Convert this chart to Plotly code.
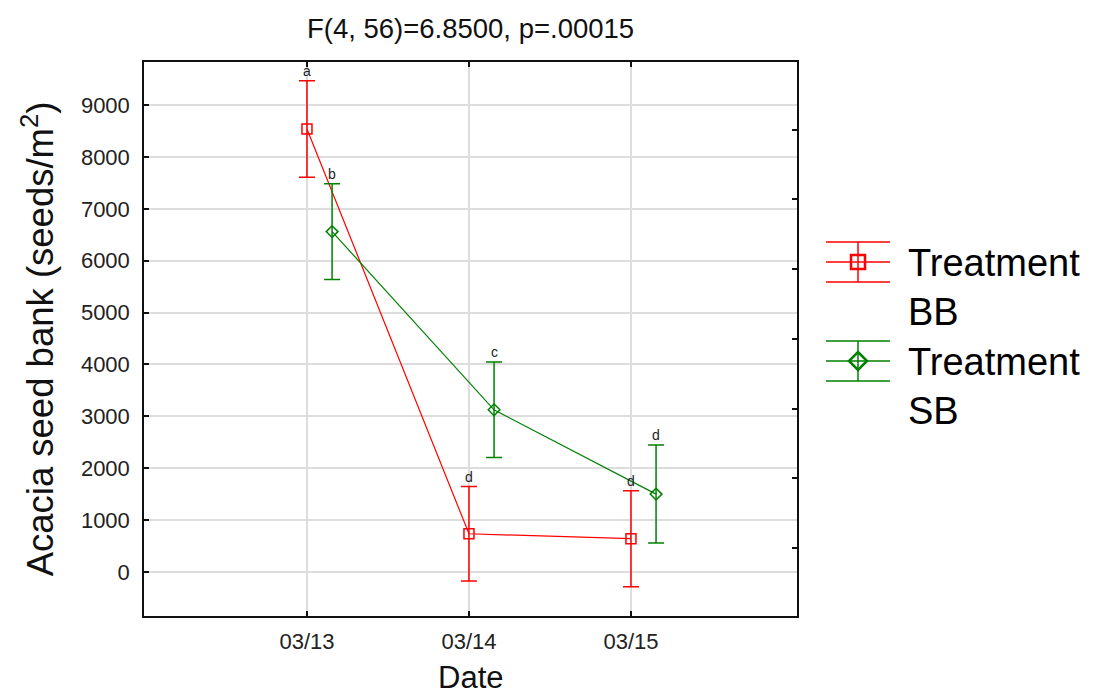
import plotly.graph_objects as go

# Seed bank means and error half-widths per sampling date
dates = ["03/13", "03/14", "03/15"]
bb_mean = [8540, 735, 640]
bb_err = [930, 910, 925]
sb_mean = [6560, 3125, 1500]
sb_err = [925, 920, 945]
bb_letters = ["a", "d", "d"]
sb_letters = ["b", "c", "d"]
y_ticks = [0, 1000, 2000, 3000, 4000, 5000, 6000, 7000, 8000, 9000]
right_ticks = [0, 1, 2, 3, 4, 5, 6]

RED = "#ff0000"
GREEN = "#008000"
FONT = "Liberation Sans, Arial, sans-serif"

W, H = 1093, 697
M = dict(l=144, r=296, t=62, b=81)

x_bb = list(range(len(dates)))
x_sb = [i + 0.155 for i in x_bb]

fig = go.Figure()

fig.add_trace(go.Scatter(
    x=x_bb, y=bb_mean, mode="lines+markers", name="Treatment BB",
    line=dict(color=RED, width=1.2),
    marker=dict(symbol="square-open", size=10, color=RED, line=dict(width=1.5)),
    error_y=dict(type="data", array=bb_err, visible=True, color=RED,
                 thickness=1.5, width=8),
    showlegend=False,
))
fig.add_trace(go.Scatter(
    x=x_sb, y=sb_mean, mode="lines+markers", name="Treatment SB",
    line=dict(color=GREEN, width=1.2),
    marker=dict(symbol="diamond-open", size=9, color=GREEN, line=dict(width=1.5)),
    error_y=dict(type="data", array=sb_err, visible=True, color=GREEN,
                 thickness=1.5, width=8),
    showlegend=False,
))
# empty trace so the unlabeled right-hand axis is drawn
fig.add_trace(go.Scatter(x=[None], y=[None], yaxis="y2", showlegend=False,
                         hoverinfo="skip"))

# significance letters above each upper error cap
annotations = []
for xs, means, errs, letters in ((x_bb, bb_mean, bb_err, bb_letters),
                                 (x_sb, sb_mean, sb_err, sb_letters)):
    for x, m, e, t in zip(xs, means, errs, letters):
        annotations.append(dict(
            x=x, y=m + e, xref="x", yref="y", text=t, showarrow=False,
            yanchor="middle", yshift=10, font=dict(family=FONT, size=14, color="#222"),
        ))


def px(xp, yp):
    """pixel position -> paper coordinates"""
    pw = W - M["l"] - M["r"]
    ph = H - M["t"] - M["b"]
    return (xp - M["l"]) / pw, (H - M["b"] - yp) / ph


# x-axis title placed below the tick labels
dx, dy = px(470.5, 696)
annotations.append(dict(x=dx, y=dy, xref="paper", yref="paper", text="Date",
                        showarrow=False, xanchor="center", yanchor="bottom",
                        borderpad=0, font=dict(family=FONT, size=31, color="#111")))

# legend drawn with error-bar glyphs
shapes = []
legend_items = [(RED, "square", 262, "Treatment<br>BB", 287),
                (GREEN, "diamond", 361, "Treatment<br>SB", 386)]
for color, sym, yc, label, ytxt in legend_items:
    for off in (-20, 0, 20):
        x0, y0 = px(826, yc + off)
        x1, _ = px(890, yc + off)
        shapes.append(dict(type="line", xref="paper", yref="paper", x0=x0, x1=x1,
                           y0=y0, y1=y0, line=dict(color=color, width=1.5)))
    xa, ya = px(858, yc - 20)
    _, yb = px(858, yc + 20)
    shapes.append(dict(type="line", xref="paper", yref="paper", x0=xa, x1=xa,
                       y0=ya, y1=yb, line=dict(color=color, width=1.5)))
    if sym == "square":
        a0, b0 = px(851, yc + 7)
        a1, b1 = px(865, yc - 7)
        shapes.append(dict(type="rect", xref="paper", yref="paper", x0=a0, x1=a1,
                           y0=b0, y1=b1, line=dict(color=color, width=2.5)))
    else:
        pts = [px(858, yc - 9), px(867, yc), px(858, yc + 9), px(849, yc)]
        path = "M " + " L ".join(f"{a},{b}" for a, b in pts) + " Z"
        shapes.append(dict(type="path", xref="paper", yref="paper", path=path,
                           line=dict(color=color, width=2.5)))
    tx, ty = px(906, ytxt)
    annotations.append(dict(x=tx, y=ty, xref="paper", yref="paper", text=label,
                            showarrow=False, xanchor="left", yanchor="middle",
                            align="left", font=dict(family=FONT, size=38, color="black")))

fig.update_layout(
    width=W, height=H, margin=dict(M, autoexpand=False),
    paper_bgcolor="white", plot_bgcolor="white",
    title=dict(text="F(4, 56)=6.8500, p=.00015", x=0.4305, xanchor="center",
               y=1 - 28 / H, yanchor="middle",
               font=dict(family=FONT, size=27.5, color="#111")),
    font=dict(family=FONT, color="#111"),
    xaxis=dict(
        range=[-1.006, 3.025], tickvals=x_bb, ticktext=dates, automargin=False,
        showgrid=True, gridcolor="#dddddd", gridwidth=1.5, zeroline=False,
        showline=True, linecolor="#111", linewidth=1.5, mirror="ticks",
        ticks="inside", ticklen=5, tickwidth=1.5, tickcolor="#111",
        tickfont=dict(family=FONT, size=22, color="#222"), ticklabelstandoff=5,
    ),
    yaxis=dict(
        range=[-850, 9830], tickvals=y_ticks, automargin=False,
        showgrid=True, gridcolor="#dddddd", gridwidth=1.5, zeroline=False,
        showline=True, linecolor="#111", linewidth=1.5, mirror=True,
        ticks="inside", ticklen=5, tickwidth=1.5, tickcolor="#111",
        tickfont=dict(family=FONT, size=22, color="#222"), ticklabelstandoff=8,
        title=dict(text="Acacia seed bank (seeds/m<sup>2</sup>)",
                   font=dict(family=FONT, size=36.5, color="#111"), standoff=16),
    ),
    yaxis2=dict(
        overlaying="y", side="right", anchor="x", range=[-0.976, 6.97], automargin=False,
        tickvals=right_ticks, showticklabels=False, showgrid=False, zeroline=False,
        showline=False, ticks="inside", ticklen=5, tickwidth=1.5, tickcolor="#111",
    ),
    annotations=annotations,
    shapes=shapes,
    showlegend=False,
)

fig.write_html("out.html")
